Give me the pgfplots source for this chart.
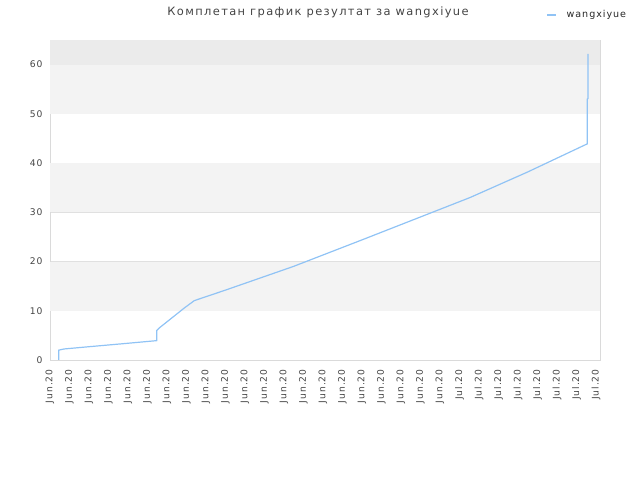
\documentclass[border=0pt]{standalone}
\usepackage{pgfplots}
\pgfplotsset{compat=1.18}
\usepackage{fontspec}
\setmainfont{DejaVu Sans}
\newfontfamily\titlefont[LetterSpace=12]{DejaVu Sans}
\newfontfamily\tickfont[LetterSpace=10]{DejaVu Sans}
\definecolor{lineblue}{RGB}{144,195,245}
\definecolor{bandgray}{RGB}{243,243,243}
\definecolor{topgray}{RGB}{235,235,235}
\definecolor{gridgray}{RGB}{224,224,224}
\definecolor{framegray}{RGB}{218,218,218}
\definecolor{txtgray}{RGB}{68,68,68}
\begin{document}
\begin{tikzpicture}
\useasboundingbox (0bp,0bp) rectangle (640bp,480bp);
\node[font=\titlefont\fontsize{11.5}{12}\selectfont, text=txtgray] at (318bp,468bp) {Комплетан график резултат за wangxiyue};
\begin{axis}[
  at={(50bp,120bp)}, anchor=south west,
  width=550bp, height=320bp, scale only axis,
  xmin=0, xmax=28.205, ymin=0, ymax=65,
  axis line style={framegray},
  xtick={0,...,28},
  xticklabels={Jun.20,Jun.20,Jun.20,Jun.20,Jun.20,Jun.20,Jun.20,Jun.20,Jun.20,Jun.20,Jun.20,Jun.20,Jun.20,Jun.20,Jun.20,Jun.20,Jun.20,Jun.20,Jun.20,Jun.20,Jun.20,Jul.20,Jul.20,Jul.20,Jul.20,Jul.20,Jul.20,Jul.20,Jul.20},
  xticklabel style={rotate=90, anchor=east, font=\tickfont\fontsize{9.2}{10}\selectfont, text=txtgray},
  xticklabel shift=6bp,
  ytick={0,10,20,30,40,50,60},
  yticklabel style={font=\tickfont\fontsize{9.2}{10}\selectfont, text=txtgray},
  yticklabel shift=4bp,
  /pgf/number format/assume math mode=true,
  major tick length=0pt,
  xtick pos=bottom, ytick pos=left,
  ymajorgrids, grid style={gridgray, line width=0.8bp},
  legend style={at={(0.902,1.078)}, anchor=west, draw=none, fill=none,
    font=\tickfont\fontsize{9.6}{10}\selectfont, inner sep=0pt, text=black!85,
    legend cell align=left},
  legend image code/.code={\draw[#1, line width=1.5bp] (0bp,0bp) -- (9bp,0bp); \path (17bp,0bp);},
]
\fill[bandgray] (axis cs:0,10) rectangle (axis cs:28.205,20);
\fill[bandgray] (axis cs:0,30) rectangle (axis cs:28.205,40);
\fill[bandgray] (axis cs:0,50) rectangle (axis cs:28.205,60);
\fill[topgray] (axis cs:0,60) rectangle (axis cs:28.205,65);
\addplot[lineblue, line width=1.2bp, no markers] coordinates {
(0.45,0) (0.45,2.0) (0.72,2.24) (2.0,2.7) (4.0,3.4) (5.47,3.93) (5.47,5.96) (5.6,6.5)
(6.9,10.6) (7.40,12.06) (9.0,14.2) (12.48,19.0) (16.0,24.4) (21.54,33.0)
(24.5,38.2) (27.55,43.9) (27.55,53.0) (27.59,53.1) (27.59,62.2)
};
\addlegendentry{wangxiyue}
\end{axis}
\end{tikzpicture}
\end{document}
